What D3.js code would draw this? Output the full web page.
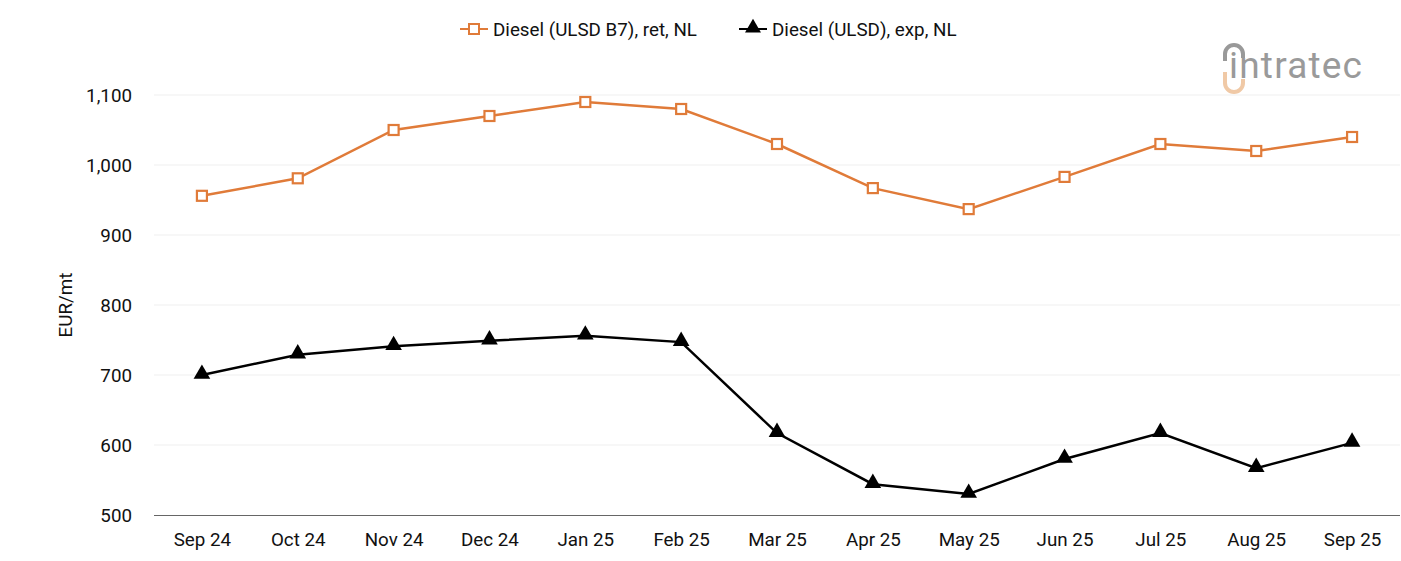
<!DOCTYPE html>
<html>
<head>
<meta charset="utf-8">
<script src="https://cdn.jsdelivr.net/npm/d3@7"></script>
<style>
  body { margin: 0; background: #fff; }
  svg { display: block; font-family: Roboto, "Noto Sans", sans-serif; }
</style>
</head>
<body>
<script>
// данные
var months = ['Sep 24', 'Oct 24', 'Nov 24', 'Dec 24', 'Jan 25', 'Feb 25', 'Mar 25',
              'Apr 25', 'May 25', 'Jun 25', 'Jul 25', 'Aug 25', 'Sep 25'];
var retailNL = [956, 981, 1050, 1070, 1090, 1080, 1030, 967, 937, 983, 1030, 1020, 1040];
var exportNL = [700, 729, 741, 749, 756, 747, 617, 544, 530, 580, 617, 567, 603];
var yTicks = [500, 600, 700, 800, 900, 1000, 1100];
var seriesNames = ['Diesel (ULSD B7), ret, NL', 'Diesel (ULSD), exp, NL'];

var width = 1401, height = 561;
var margin = { top: 95, right: 1, bottom: 46, left: 154 };
var fs = 18.8;

var svg = d3.select('body').append('svg')
  .attr('width', width)
  .attr('height', height);

var x = d3.scalePoint()
  .domain(months)
  .range([margin.left, width - margin.right])
  .padding(0.5);

var y = d3.scaleLinear()
  .domain([500, 1100])
  .range([height - margin.bottom, margin.top]);

// сетка
svg.append('g')
  .selectAll('line')
  .data(yTicks.slice(1))
  .enter()
  .append('line')
  .attr('x1', margin.left)
  .attr('x2', width - margin.right)
  .attr('y1', function(d) { return y(d); })
  .attr('y2', function(d) { return y(d); })
  .attr('stroke', '#efefef')
  .attr('stroke-width', 1);

// ось Y
var yAxis = svg.append('g')
  .attr('transform', 'translate(' + (margin.left - 19) + ',0)')
  .call(d3.axisLeft(y).tickValues(yTicks).tickSize(0).tickFormat(d3.format(',')));
yAxis.select('.domain').remove();
yAxis.selectAll('text')
  .attr('font-size', fs)
  .attr('font-family', 'Roboto, sans-serif')
  .attr('fill', '#111');

// ось X
var xAxis = svg.append('g')
  .attr('transform', 'translate(0,' + y(500) + ')')
  .call(d3.axisBottom(x).tickSize(0).tickPadding(18));
xAxis.select('.domain')
  .attr('d', 'M' + margin.left + ',0.5H' + (width - margin.right))
  .attr('stroke', '#666');
xAxis.selectAll('text')
  .attr('font-size', fs)
  .attr('font-family', 'Roboto, sans-serif')
  .attr('fill', '#111');

// подпись оси
svg.append('text')
  .attr('transform', 'translate(72,' + y(800) + ') rotate(-90)')
  .attr('text-anchor', 'middle')
  .attr('font-size', fs)
  .attr('fill', '#111')
  .text('EUR/mt');

var line = d3.line()
  .x(function(d, i) { return x(months[i]); })
  .y(function(d) { return y(d); });

var orange = '#e07b39';

svg.append('path')
  .datum(retailNL)
  .attr('d', line)
  .attr('fill', 'none')
  .attr('stroke', orange)
  .attr('stroke-width', 2.5);

svg.append('path')
  .datum(exportNL)
  .attr('d', line)
  .attr('fill', 'none')
  .attr('stroke', '#000')
  .attr('stroke-width', 2.5);

svg.append('g')
  .selectAll('rect')
  .data(retailNL)
  .enter()
  .append('rect')
  .attr('x', function(d, i) { return x(months[i]) - 5; })
  .attr('y', function(d) { return y(d) - 5; })
  .attr('width', 10)
  .attr('height', 10)
  .attr('fill', '#fff')
  .attr('stroke', orange)
  .attr('stroke-width', 2.2);

var tri = d3.symbol().type(d3.symbolTriangle).size(120);
svg.append('g')
  .selectAll('path')
  .data(exportNL)
  .enter()
  .append('path')
  .attr('d', tri)
  .attr('transform', function(d, i) { return 'translate(' + x(months[i]) + ',' + (y(d) - 1) + ')'; })
  .attr('fill', '#000');

// легенда
var legend = svg.append('g').attr('font-size', fs).attr('fill', '#111');
var l1 = legend.append('g').attr('transform', 'translate(460,29)');
l1.append('line').attr('x1', 0).attr('x2', 28).attr('stroke', orange).attr('stroke-width', 2);
l1.append('rect').attr('x', 9).attr('y', -5).attr('width', 10).attr('height', 10)
  .attr('fill', '#fff').attr('stroke', orange).attr('stroke-width', 2);
l1.append('text').attr('x', 33).attr('dy', '0.35em').text(seriesNames[0]);

var l2 = legend.append('g').attr('transform', 'translate(739,29)');
l2.append('line').attr('x1', 0).attr('x2', 28).attr('stroke', '#000').attr('stroke-width', 2);
l2.append('path').attr('d', d3.symbol().type(d3.symbolTriangle).size(110))
  .attr('transform', 'translate(14,-1)').attr('fill', '#000');
l2.append('text').attr('x', 33).attr('dy', '0.35em').text(seriesNames[1]);

// логотип
var logo = svg.append('g').attr('transform', 'translate(1222,44)');
logo.append('path')
  .attr('d', 'M3,17 V10 A9,9 0 0 1 21,10 V14')
  .attr('fill', 'none').attr('stroke', '#999').attr('stroke-width', 4);
logo.append('path')
  .attr('d', 'M3,28 V39 A9,9 0 0 0 21,39 V35')
  .attr('fill', 'none').attr('stroke', '#f0c9a6').attr('stroke-width', 4);
logo.append('text')
  .attr('x', 7)
  .attr('y', 34)
  .attr('font-size', 37)
  .attr('font-family', 'Roboto, sans-serif')
  .attr('fill', '#9a9a9a')
  .attr('letter-spacing', 1.2)
  .text('intratec');
</script>
</body>
</html>
